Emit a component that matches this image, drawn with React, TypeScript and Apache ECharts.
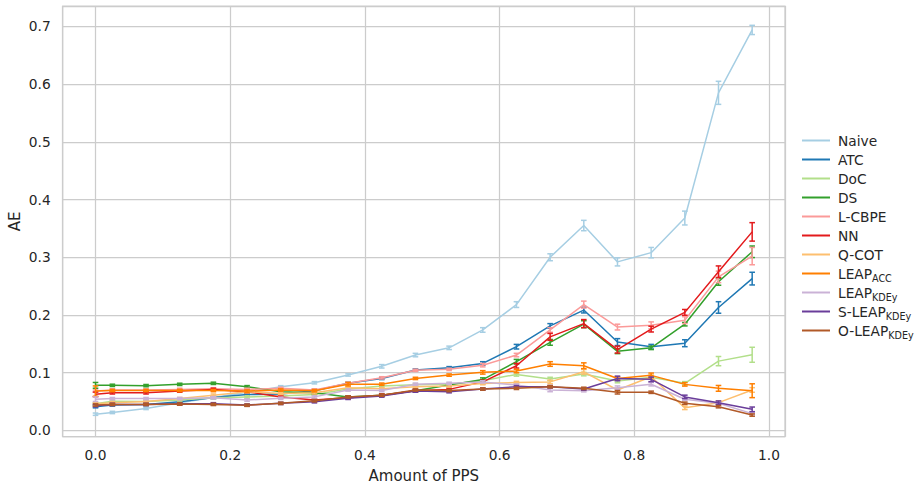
import React, { useEffect, useRef } from "react";
import * as echarts from "echarts";

const xValues = [0, 0.025, 0.075, 0.125, 0.175, 0.225, 0.275, 0.325, 0.375, 0.425, 0.475, 0.525, 0.575, 0.625, 0.675, 0.725, 0.775, 0.825, 0.875, 0.925, 0.975];

const seriesNames = ["Naive", "ATC", "DoC", "DS", "L-CBPE", "NN", "Q-COT", "LEAP_ACC", "LEAP_KDEy", "S-LEAP_KDEy", "O-LEAP_KDEy"];
const seriesColors = ["#a6cee3", "#1f78b4", "#b2df8a", "#33a02c", "#fb9a99", "#e31a1c", "#fdbf6f", "#ff7f00", "#cab2d6", "#6a3d9a", "#b15928"];

const naive = [0.028, 0.031, 0.038, 0.048, 0.057, 0.066, 0.0755, 0.0825, 0.096, 0.111, 0.1305, 0.143, 0.174, 0.218, 0.300, 0.355, 0.292, 0.308, 0.368, 0.585, 0.694];
const naiveErr = [0.002, 0.002, 0.002, 0.002, 0.002, 0.002, 0.002, 0.002, 0.002, 0.003, 0.003, 0.003, 0.004, 0.005, 0.006, 0.009, 0.007, 0.009, 0.012, 0.02, 0.008];
const atc = [0.041, 0.044, 0.045, 0.0496, 0.057, 0.062, 0.063, 0.0687, 0.0815, 0.090, 0.1045, 0.1085, 0.116, 0.145, 0.181, 0.2085, 0.153, 0.145, 0.151, 0.213, 0.263];
const atcErr = [0.002, 0.002, 0.002, 0.002, 0.002, 0.002, 0.002, 0.002, 0.002, 0.002, 0.002, 0.002, 0.003, 0.004, 0.004, 0.005, 0.006, 0.004, 0.006, 0.01, 0.011];
const doc = [0.046, 0.0505, 0.050, 0.0525, 0.0565, 0.058, 0.0595, 0.062, 0.0716, 0.077, 0.079, 0.080, 0.086, 0.097, 0.089, 0.0975, 0.0854, 0.092, 0.0815, 0.120, 0.131];
const docErr = [0.002, 0.002, 0.002, 0.002, 0.002, 0.002, 0.002, 0.002, 0.002, 0.002, 0.002, 0.002, 0.002, 0.003, 0.003, 0.003, 0.003, 0.003, 0.003, 0.008, 0.013];
const ds = [0.078, 0.078, 0.0775, 0.0797, 0.0815, 0.0756, 0.067, 0.065, 0.058, 0.061, 0.0687, 0.0785, 0.088, 0.119, 0.1525, 0.184, 0.137, 0.143, 0.184, 0.2575, 0.3095];
const dsErr = [0.005, 0.002, 0.002, 0.002, 0.002, 0.002, 0.002, 0.002, 0.002, 0.002, 0.002, 0.002, 0.003, 0.004, 0.005, 0.006, 0.004, 0.003, 0.003, 0.006, 0.01];
const lcbpe = [0.068, 0.070, 0.070, 0.071, 0.072, 0.071, 0.0728, 0.070, 0.0815, 0.091, 0.104, 0.1057, 0.113, 0.1305, 0.174, 0.218, 0.179, 0.182, 0.191, 0.266, 0.302];
const lcbpeErr = [0.002, 0.002, 0.002, 0.002, 0.002, 0.002, 0.002, 0.002, 0.002, 0.002, 0.002, 0.002, 0.003, 0.003, 0.004, 0.006, 0.005, 0.006, 0.006, 0.01, 0.015];
const nn = [0.0624, 0.065, 0.065, 0.068, 0.071, 0.067, 0.058, 0.0525, 0.0565, 0.061, 0.0687, 0.071, 0.084, 0.112, 0.162, 0.185, 0.140, 0.1755, 0.2045, 0.275, 0.344];
const nnErr = [0.004, 0.002, 0.002, 0.002, 0.002, 0.002, 0.002, 0.002, 0.002, 0.002, 0.002, 0.002, 0.003, 0.004, 0.006, 0.007, 0.006, 0.005, 0.005, 0.01, 0.016];
const qcot = [0.046, 0.048, 0.050, 0.055, 0.061, 0.067, 0.064, 0.065, 0.074, 0.072, 0.0756, 0.077, 0.081, 0.083, 0.084, 0.1015, 0.070, 0.093, 0.039, 0.048, 0.070];
const qcotErr = [0.002, 0.002, 0.002, 0.002, 0.002, 0.002, 0.002, 0.002, 0.002, 0.002, 0.002, 0.002, 0.002, 0.002, 0.003, 0.004, 0.003, 0.003, 0.003, 0.003, 0.004];
const leapAcc = [0.068, 0.069, 0.069, 0.069, 0.069, 0.068, 0.070, 0.0687, 0.080, 0.080, 0.090, 0.0958, 0.1005, 0.1028, 0.115, 0.112, 0.090, 0.0953, 0.0797, 0.0728, 0.0687];
const leapAccErr = [0.009, 0.002, 0.002, 0.002, 0.002, 0.002, 0.002, 0.002, 0.003, 0.002, 0.002, 0.002, 0.003, 0.003, 0.004, 0.005, 0.003, 0.004, 0.003, 0.005, 0.012];
const leapKdey = [0.054, 0.055, 0.055, 0.055, 0.0565, 0.0525, 0.0555, 0.058, 0.070, 0.069, 0.080, 0.0815, 0.084, 0.0785, 0.070, 0.0687, 0.074, 0.080, 0.054, 0.047, 0.029];
const leapKdeyErr = [0.004, 0.002, 0.002, 0.002, 0.002, 0.002, 0.002, 0.002, 0.002, 0.002, 0.002, 0.002, 0.002, 0.002, 0.003, 0.002, 0.003, 0.003, 0.002, 0.002, 0.002];
const sLeap = [0.0427, 0.045, 0.045, 0.046, 0.046, 0.0438, 0.0468, 0.0496, 0.0555, 0.0595, 0.068, 0.067, 0.0716, 0.0756, 0.0756, 0.0716, 0.090, 0.0884, 0.058, 0.048, 0.0364];
const sLeapErr = [0.002, 0.002, 0.002, 0.002, 0.002, 0.002, 0.002, 0.002, 0.002, 0.002, 0.002, 0.002, 0.002, 0.002, 0.002, 0.002, 0.004, 0.004, 0.003, 0.003, 0.004];
const oLeap = [0.044, 0.045, 0.045, 0.0455, 0.045, 0.0435, 0.0468, 0.0513, 0.058, 0.061, 0.070, 0.069, 0.0716, 0.0728, 0.0756, 0.0728, 0.066, 0.066, 0.047, 0.041, 0.0265];
const oLeapErr = [0.002, 0.002, 0.002, 0.002, 0.002, 0.002, 0.002, 0.002, 0.002, 0.002, 0.002, 0.002, 0.002, 0.002, 0.002, 0.002, 0.003, 0.002, 0.002, 0.002, 0.002];

const allValues = [naive, atc, doc, ds, lcbpe, nn, qcot, leapAcc, leapKdey, sLeap, oLeap];
const allErrors = [naiveErr, atcErr, docErr, dsErr, lcbpeErr, nnErr, qcotErr, leapAccErr, leapKdeyErr, sLeapErr, oLeapErr];

const xTicks = [0, 0.2, 0.4, 0.6, 0.8, 1.0];
const yTicks = [0, 0.1, 0.2, 0.3, 0.4, 0.5, 0.6, 0.7];

const FONT = "DejaVu Sans";
const TEXT = "#262626";
const GRIDC = "#cccccc";

function legendLabel(name: string): string {
  const i = name.indexOf("_");
  if (i < 0) return name;
  return name.slice(0, i) + "{sub|" + name.slice(i + 1) + "}";
}

function isTick(v: number, ticks: number[]) {
  return ticks.some((t) => Math.abs(t - v) < 1e-6);
}

export default function App() {
  const ref = useRef<HTMLDivElement>(null);
  useEffect(() => {
    if (!ref.current) return;
    const chart = echarts.init(ref.current, null, { renderer: "svg" });
    const series: any[] = [];
    seriesNames.forEach((name, si) => {
      const color = seriesColors[si];
      series.push({
        name,
        type: "line",
        data: xValues.map((x, i) => [x, allValues[si][i]]),
        showSymbol: false,
        symbol: "none",
        lineStyle: { color, width: 1.5 },
        itemStyle: { color },
        emphasis: { disabled: true },
        z: 2 + si,
      });
      series.push({
        name: name + " err",
        type: "custom",
        data: xValues.map((x, i) => [x, allValues[si][i], allErrors[si][i]]),
        z: 2 + si,
        silent: true,
        renderItem: (params: any, api: any) => {
          const x = api.value(0);
          const y = api.value(1);
          const e = api.value(2);
          const top = api.coord([x, y + e]);
          const bot = api.coord([x, y - e]);
          const hw = 2.8;
          const style = { stroke: color, lineWidth: 1.5, fill: null };
          return {
            type: "group",
            children: [
              { type: "line", shape: { x1: top[0], y1: top[1], x2: bot[0], y2: bot[1] }, style },
              { type: "line", shape: { x1: top[0] - hw, y1: top[1], x2: top[0] + hw, y2: top[1] }, style },
              { type: "line", shape: { x1: bot[0] - hw, y1: bot[1], x2: bot[0] + hw, y2: bot[1] }, style },
            ],
          };
        },
      });
    });

    chart.setOption({
      animation: false,
      backgroundColor: "#ffffff",
      textStyle: { fontFamily: FONT },
      grid: {
        left: 62.7,
        top: 6,
        right: 135,
        bottom: 49.3,
        containLabel: false,
        outerBoundsMode: "none",
        show: true,
        borderColor: GRIDC,
        borderWidth: 1.25,
        backgroundColor: "transparent",
      },
      legend: {
        orient: "vertical",
        left: 797,
        top: 126,
        itemWidth: 28,
        itemHeight: 2,
        itemGap: 0,
        icon: "rect",
        data: seriesNames,
        formatter: (name: string) => legendLabel(name),
        textStyle: {
          fontFamily: FONT,
          fontSize: 13.75,
          color: TEXT,
          lineHeight: 19,
          padding: [0, 0, 0, 3],
          rich: {
            sub: {
              fontFamily: FONT,
              fontSize: 9.6,
              color: TEXT,
              lineHeight: 12,
              verticalAlign: "bottom",
            },
          },
        },
      },
      xAxis: {
        type: "value",
        min: -0.04875,
        max: 1.02375,
        minInterval: 0.2,
        maxInterval: 0.2,
        name: "Amount of PPS",
        nameLocation: "middle",
        nameGap: 32,
        nameMoveOverlap: false,
        nameTextStyle: { fontFamily: FONT, fontSize: 15, color: TEXT },
        axisLine: { show: false },
        axisTick: { show: false },
        axisLabel: {
          fontFamily: FONT,
          fontSize: 13.75,
          color: TEXT,
          margin: 11,
          showMinLabel: false,
          showMaxLabel: false,
          formatter: (v: number) => (isTick(v, xTicks) ? v.toFixed(1) : ""),
        },
        splitLine: { show: true, lineStyle: { color: GRIDC, width: 1.25 } },
      },
      yAxis: {
        type: "value",
        min: -0.011,
        max: 0.7355,
        minInterval: 0.1,
        maxInterval: 0.1,
        name: "AE",
        nameLocation: "middle",
        nameGap: 40,
        nameMoveOverlap: false,
        nameTextStyle: { fontFamily: FONT, fontSize: 15, color: TEXT },
        axisLine: { show: false },
        axisTick: { show: false },
        axisLabel: {
          fontFamily: FONT,
          fontSize: 13.75,
          color: TEXT,
          margin: 12,
          showMinLabel: false,
          showMaxLabel: false,
          formatter: (v: number) => (isTick(v, yTicks) ? v.toFixed(1) : ""),
        },
        splitLine: { show: true, lineStyle: { color: GRIDC, width: 1.25 } },
      },
      series,
    });
    return () => chart.dispose();
  }, []);
  return <div ref={ref} style={{ width: 920, height: 486, position: "absolute", left: 0, top: 0 }} />;
}
